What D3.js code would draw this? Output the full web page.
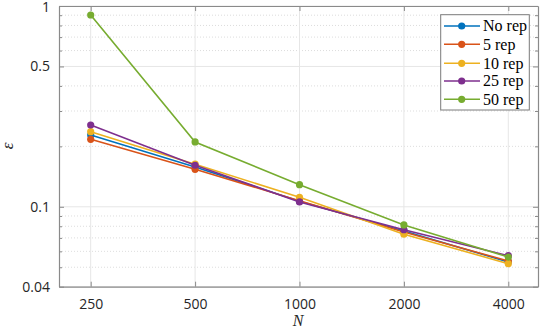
<!DOCTYPE html>
<html><head><meta charset="utf-8">
<script src="https://cdn.jsdelivr.net/npm/d3@7"></script>
<style>body{margin:0;background:#fff}svg{display:block}</style>
</head><body>
<script>
const Ns = [250, 500, 1000, 2000, 4000];
const seriesNames = ["No rep", "5 rep", "10 rep", "25 rep", "50 rep"];
const noRep = [0.2278, 0.158, 0.1066, 0.0758, 0.0531];
const rep5  = [0.2168, 0.1537, 0.1073, 0.0749, 0.0537];
const rep10 = [0.2366, 0.163, 0.1115, 0.0730, 0.0521];
const rep25 = [0.2555, 0.161, 0.1057, 0.0769, 0.0571];
const rep50 = [0.902, 0.2103, 0.1288, 0.0812, 0.0562];
const colors = ["#0072BD", "#D95319", "#EDB120", "#7E2F8E", "#77AC30"];
const yTicks = [0.04, 0.1, 0.5, 1];
const yMinor = [0.05,0.06,0.07,0.08,0.09,0.2,0.3,0.4,0.6,0.7,0.8,0.9];

const W = 540, H = 329;
const L = 59, R = 538, T = 6, B = 286.7;
const svg = d3.select("body").append("svg").attr("width", W).attr("height", H);

const x = d3.scaleLog().base(2).domain([250*Math.pow(2,-0.3036), 4000*Math.pow(2,0.2845)]).range([L, R]);
const y = d3.scaleLog().domain([0.04, 1]).range([B, T]);

const g = svg.append("g");
g.selectAll(".ym").data(yMinor).enter().append("line")
  .attr("x1", L).attr("x2", R).attr("y1", d=>y(d)).attr("y2", d=>y(d))
  .attr("stroke", "#d4d4d4").attr("stroke-width", 0.8).attr("stroke-dasharray", "1,2");
g.selectAll(".yg").data(yTicks).enter().append("line")
  .attr("x1", L).attr("x2", R).attr("y1", d=>y(d)).attr("y2", d=>y(d))
  .attr("stroke", "#e6e6e6").attr("stroke-width", 1);
g.selectAll(".xg").data(Ns).enter().append("line")
  .attr("y1", T).attr("y2", B).attr("x1", d=>x(d)).attr("x2", d=>x(d))
  .attr("stroke", "#e6e6e6").attr("stroke-width", 1);

const axCol = "#8a8a8a";
const xAxis = d3.axisBottom(x).tickValues(Ns).tickFormat(d3.format("d")).tickSizeInner(-5).tickSizeOuter(0).tickPadding(12);
svg.append("g").attr("transform", `translate(0,${B})`).call(xAxis);
const yAxis = d3.axisLeft(y).tickValues(yTicks).tickFormat(d=>String(d)).tickSizeInner(-5).tickSizeOuter(0).tickPadding(9);
const ya = svg.append("g").attr("transform", `translate(${L},0)`).call(yAxis);
const yAxisR = d3.axisRight(y).tickValues(yTicks).tickFormat("").tickSizeInner(-5).tickSizeOuter(0);
svg.append("g").attr("transform", `translate(${R},0)`).call(yAxisR);
const xAxisT = d3.axisTop(x).tickValues(Ns).tickFormat("").tickSizeInner(-5).tickSizeOuter(0);
svg.append("g").attr("transform", `translate(0,${T})`).call(xAxisT);
const yMinL = d3.axisLeft(y).tickValues(yMinor).tickFormat("").tickSizeInner(-3).tickSizeOuter(0);
svg.append("g").attr("transform", `translate(${L},0)`).call(yMinL).select(".domain").remove();
const yMinR = d3.axisRight(y).tickValues(yMinor).tickFormat("").tickSizeInner(-3).tickSizeOuter(0);
svg.append("g").attr("transform", `translate(${R},0)`).call(yMinR).select(".domain").remove();

svg.selectAll(".domain").attr("stroke", axCol).attr("stroke-width", 1.2);
svg.selectAll(".tick line").attr("stroke", axCol);
svg.selectAll(".tick text").attr("font-family", "'Open Sans', sans-serif").attr("font-size", 14).attr("fill", "#262626");
ya.selectAll(".tick text").filter(d => d === 1).attr("dy", "0.36em");

const allSeries = [noRep, rep5, rep10, rep25, rep50];
const line = d3.line().x((d,i)=>x(Ns[i])).y(d=>y(d));
allSeries.forEach((s, k) => {
  const sg = svg.append("g");
  sg.append("path").attr("d", line(s)).attr("fill", "none").attr("stroke", colors[k]).attr("stroke-width", 1.6);
  sg.selectAll("circle").data(s).enter().append("circle")
    .attr("cx", (d,i)=>x(Ns[i])).attr("cy", d=>y(d)).attr("r", 3.6).attr("fill", colors[k]);
});

svg.append("text").attr("x", 298).attr("y", 326).attr("text-anchor", "middle")
  .attr("font-family", "'Liberation Serif', serif").attr("font-style", "italic").attr("font-size", 16).attr("fill", "#262626").text("N");
svg.append("text").attr("transform", "translate(13,146) rotate(-90)").attr("text-anchor", "middle")
  .attr("font-family", "'Liberation Serif', serif").attr("font-style", "italic").attr("font-size", 17).attr("fill", "#262626").text("ε");

const lg = svg.append("g");
lg.append("rect").attr("x", 440.7).attr("y", 14.7).attr("width", 88.6).attr("height", 95.3)
  .attr("fill", "#fff").attr("stroke", "#7a7a7a").attr("stroke-width", 1);
const ly = [26, 44.3, 63.3, 81, 99.3];
seriesNames.forEach((nm, k) => {
  lg.append("line").attr("x1", 444).attr("x2", 480).attr("y1", ly[k]).attr("y2", ly[k])
    .attr("stroke", colors[k]).attr("stroke-width", 1.6);
  lg.append("circle").attr("cx", 461.7).attr("cy", ly[k]).attr("r", 3.6).attr("fill", colors[k]);
  lg.append("text").attr("x", 483).attr("y", ly[k]).attr("dy", "0.33em")
    .attr("font-family", "'Liberation Serif', serif").attr("font-size", 16).attr("fill", "#000").text(nm);
});
</script>
</body></html>
